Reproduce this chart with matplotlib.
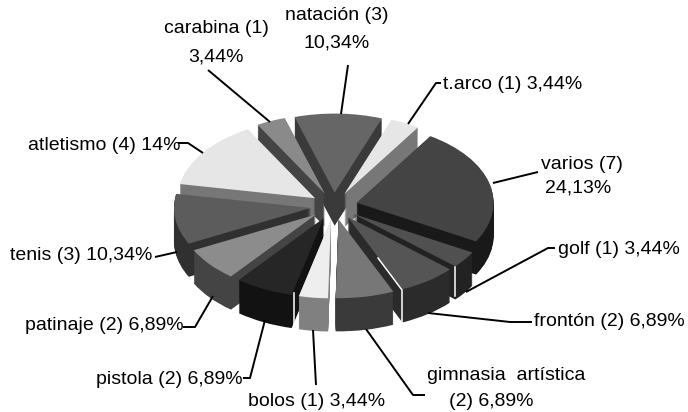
import numpy as np
import matplotlib
matplotlib.use('Agg')
import matplotlib.pyplot as plt

plt.rcParams['font.family'] = ['Liberation Sans', 'DejaVu Sans']

# clockwise starting from natacion
sports = ['natación', 't.arco', 'varios', 'golf', 'frontón', 'gimnasia artística',
          'bolos', 'pistola', 'patinaje', 'tenis', 'atletismo', 'carabina']
counts = [3, 1, 7, 1, 2, 2, 1, 2, 2, 3, 4, 1]
percents = [10.34, 3.44, 24.13, 3.44, 6.89, 6.89, 3.44, 6.89, 6.89, 10.34, 14, 3.44]

top_colors = ['#666666', '#e6e6e6', '#444444', '#505050', '#555555', '#777777',
              '#eeeeee', '#262626', '#8c8c8c', '#5c5c5c', '#e6e6e6', '#8a8a8a']
side_colors = ['#3a3a3a', '#777777', '#191919', '#222222', '#2b2b2b', '#3a3a3a',
               '#808080', '#121212', '#444444', '#303030', '#777777', '#444444']

explode = [0.17] * len(percents)
start = 107
depth = 0.42
px = (334, 206, 137, 79)  # centre x, centre y, x radius, y radius

fig = plt.figure(figsize=(6.88, 4.12), dpi=100)
ax = fig.add_axes([0, 0, 1, 1])

# stack of pies going up makes the extrusion
for d in np.linspace(depth, 0.01, 34):
    ax.pie(percents, explode=explode, colors=side_colors, startangle=start,
           counterclock=False, center=(0, -d), wedgeprops={'linewidth': 0.6, 'edgecolor': 'none'})
wedges, _ = ax.pie(percents, explode=explode, colors=top_colors, startangle=start,
                   counterclock=False, wedgeprops={'linewidth': 0})

# gradients on the tops of tenis, patinaje and carabina
grads = {9: (0.27, 0.47), 8: (0.62, 0.52), 11: (0.62, 0.5)}
for i, (g1, g2) in grads.items():
    box = wedges[i].get_path().get_extents(wedges[i].get_transform())
    img = ax.imshow(np.linspace(g1, g2, 64).reshape(-1, 1), cmap='gray', vmin=0, vmax=1,
                    extent=(-1.4, 1.4, box.y0, box.y1),
                    aspect='auto', origin='upper' if i == 9 else 'lower', zorder=wedges[i].get_zorder() + 1)
    img.set_clip_path(wedges[i])

ax.set_aspect('auto')
ax.set_xlim(-px[0] / px[2], (688 - px[0]) / px[2])
ax.set_ylim(-(412 - px[1]) / px[3], px[1] / px[3])
ax.axis('off')

# labels and leader lines in pixel coordinates
ov = fig.add_axes([0, 0, 1, 1])
ov.set_xlim(0, 688)
ov.set_ylim(412, 0)
ov.axis('off')
ov.patch.set_alpha(0)


def pct(v):
    return (f'{v:.2f}'.replace('.', ',') if v != 14 else '14') + '%'


def lab(i):
    return f'{sports[i]} ({counts[i]})'


labels = [
    (337, 15, lab(0), 'center'), (337, 43, pct(percents[0]), 'center'),
    (443, 84, lab(1) + ' ' + pct(percents[1]), 'left'),
    (541, 164, lab(2), 'left'), (578, 188, pct(percents[2]), 'center'),
    (558, 249, lab(3) + ' ' + pct(percents[3]), 'left'),
    (534, 322, lab(4) + ' ' + pct(percents[4]), 'left'),
    (427, 376, 'gimnasia  artística', 'left'),
    (491, 402, f'({counts[5]}) ' + pct(percents[5]), 'center'),
    (248, 402, lab(6) + ' ' + pct(percents[6]), 'left'),
    (96, 379, lab(7) + ' ' + pct(percents[7]), 'left'),
    (25, 325, lab(8) + ' ' + pct(percents[8]), 'left'),
    (10, 256, lab(9) + ' ' + pct(percents[9]), 'left'),
    (28, 145, lab(10) + ' ' + pct(percents[10]), 'left'),
    (216, 28, lab(11), 'center'), (216, 57, pct(percents[11]), 'center'),
]
for x, y, s, ha in labels:
    ov.text(x, y, s, ha=ha, va='center', fontsize=14, color='black')

leaders = [
    [(348, 65), (341, 114)],
    [(441, 83), (436, 83), (408, 124)],
    [(538, 172), (493, 183)],
    [(555, 248), (548, 248), (466, 292)],
    [(532, 322), (510, 322), (428, 313)],
    [(425, 395), (413, 395), (366, 329)],
    [(316, 385), (313, 330)],
    [(243, 378), (250, 378), (265, 320)],
    [(183, 327), (195, 327), (213, 296)],
    [(155, 257), (177, 252)],
    [(178, 143), (188, 143), (203, 153)],
    [(208, 70), (270, 122)],
]
for pts in leaders:
    xs, ys = zip(*pts)
    ov.plot(xs, ys, color='black', lw=1.4, solid_capstyle='butt')

# white highlights on slice edges
shine = [
    [(378, 258), (402, 290), (402, 322)],
    [(455, 267), (455, 296)],
    [(294, 293), (294, 325)],
]
for pts in shine:
    xs, ys = zip(*pts)
    ov.plot(xs, ys, color='white', lw=1.1)

plt.savefig('out.png', dpi=100)
